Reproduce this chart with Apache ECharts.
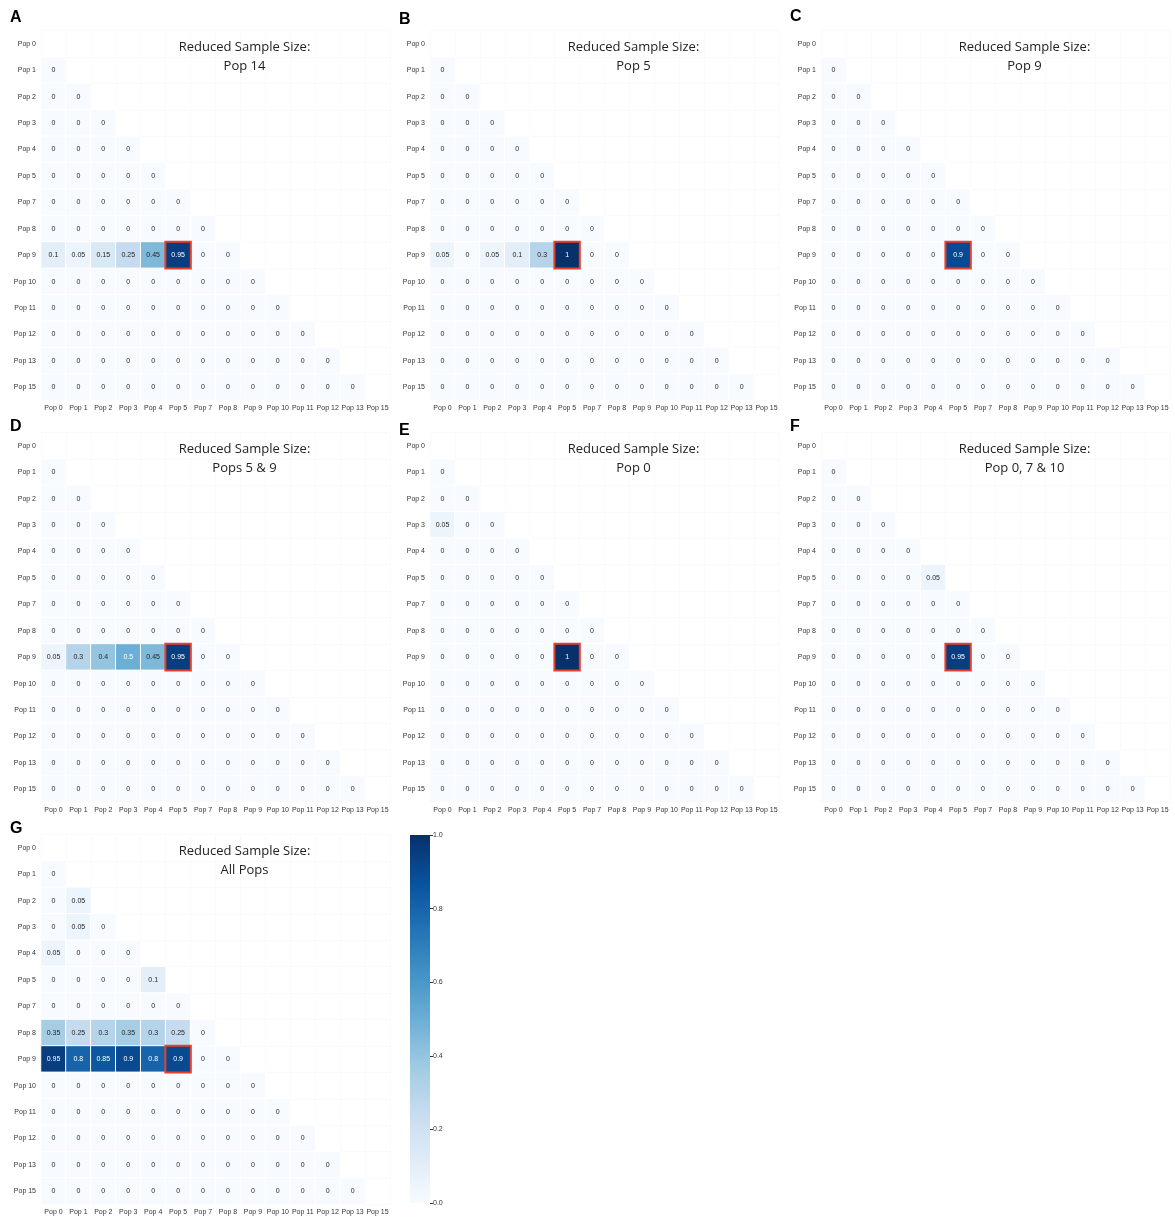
<!DOCTYPE html>
<html>
<head>
<meta charset="utf-8">
<script src="https://cdn.jsdelivr.net/npm/echarts@6/dist/echarts.min.js"></script>
<style>
  html, body { margin: 0; padding: 0; background: #fff; }
  #main { width: 1175px; height: 1226px; }
</style>
</head>
<body>
<div id="main"></div>
<script>
// categories (Pop 6 and Pop 14 are not in the matrices)
const pops = ['Pop 0', 'Pop 1', 'Pop 2', 'Pop 3', 'Pop 4', 'Pop 5', 'Pop 7',
    'Pop 8', 'Pop 9', 'Pop 10', 'Pop 11', 'Pop 12', 'Pop 13', 'Pop 15'];

// lower triangle of each panel, one row per pop (row i has i values)
const panelA = [
    [],
    [0],
    [0, 0],
    [0, 0, 0],
    [0, 0, 0, 0],
    [0, 0, 0, 0, 0],
    [0, 0, 0, 0, 0, 0],
    [0, 0, 0, 0, 0, 0, 0],
    [0.1, 0.05, 0.15, 0.25, 0.45, 0.95, 0, 0],
    [0, 0, 0, 0, 0, 0, 0, 0, 0],
    [0, 0, 0, 0, 0, 0, 0, 0, 0, 0],
    [0, 0, 0, 0, 0, 0, 0, 0, 0, 0, 0],
    [0, 0, 0, 0, 0, 0, 0, 0, 0, 0, 0, 0],
    [0, 0, 0, 0, 0, 0, 0, 0, 0, 0, 0, 0, 0]
];
const panelB = [
    [],
    [0],
    [0, 0],
    [0, 0, 0],
    [0, 0, 0, 0],
    [0, 0, 0, 0, 0],
    [0, 0, 0, 0, 0, 0],
    [0, 0, 0, 0, 0, 0, 0],
    [0.05, 0, 0.05, 0.1, 0.3, 1, 0, 0],
    [0, 0, 0, 0, 0, 0, 0, 0, 0],
    [0, 0, 0, 0, 0, 0, 0, 0, 0, 0],
    [0, 0, 0, 0, 0, 0, 0, 0, 0, 0, 0],
    [0, 0, 0, 0, 0, 0, 0, 0, 0, 0, 0, 0],
    [0, 0, 0, 0, 0, 0, 0, 0, 0, 0, 0, 0, 0]
];
const panelC = [
    [],
    [0],
    [0, 0],
    [0, 0, 0],
    [0, 0, 0, 0],
    [0, 0, 0, 0, 0],
    [0, 0, 0, 0, 0, 0],
    [0, 0, 0, 0, 0, 0, 0],
    [0, 0, 0, 0, 0, 0.9, 0, 0],
    [0, 0, 0, 0, 0, 0, 0, 0, 0],
    [0, 0, 0, 0, 0, 0, 0, 0, 0, 0],
    [0, 0, 0, 0, 0, 0, 0, 0, 0, 0, 0],
    [0, 0, 0, 0, 0, 0, 0, 0, 0, 0, 0, 0],
    [0, 0, 0, 0, 0, 0, 0, 0, 0, 0, 0, 0, 0]
];
const panelD = [
    [],
    [0],
    [0, 0],
    [0, 0, 0],
    [0, 0, 0, 0],
    [0, 0, 0, 0, 0],
    [0, 0, 0, 0, 0, 0],
    [0, 0, 0, 0, 0, 0, 0],
    [0.05, 0.3, 0.4, 0.5, 0.45, 0.95, 0, 0],
    [0, 0, 0, 0, 0, 0, 0, 0, 0],
    [0, 0, 0, 0, 0, 0, 0, 0, 0, 0],
    [0, 0, 0, 0, 0, 0, 0, 0, 0, 0, 0],
    [0, 0, 0, 0, 0, 0, 0, 0, 0, 0, 0, 0],
    [0, 0, 0, 0, 0, 0, 0, 0, 0, 0, 0, 0, 0]
];
const panelE = [
    [],
    [0],
    [0, 0],
    [0.05, 0, 0],
    [0, 0, 0, 0],
    [0, 0, 0, 0, 0],
    [0, 0, 0, 0, 0, 0],
    [0, 0, 0, 0, 0, 0, 0],
    [0, 0, 0, 0, 0, 1, 0, 0],
    [0, 0, 0, 0, 0, 0, 0, 0, 0],
    [0, 0, 0, 0, 0, 0, 0, 0, 0, 0],
    [0, 0, 0, 0, 0, 0, 0, 0, 0, 0, 0],
    [0, 0, 0, 0, 0, 0, 0, 0, 0, 0, 0, 0],
    [0, 0, 0, 0, 0, 0, 0, 0, 0, 0, 0, 0, 0]
];
const panelF = [
    [],
    [0],
    [0, 0],
    [0, 0, 0],
    [0, 0, 0, 0],
    [0, 0, 0, 0, 0.05],
    [0, 0, 0, 0, 0, 0],
    [0, 0, 0, 0, 0, 0, 0],
    [0, 0, 0, 0, 0, 0.95, 0, 0],
    [0, 0, 0, 0, 0, 0, 0, 0, 0],
    [0, 0, 0, 0, 0, 0, 0, 0, 0, 0],
    [0, 0, 0, 0, 0, 0, 0, 0, 0, 0, 0],
    [0, 0, 0, 0, 0, 0, 0, 0, 0, 0, 0, 0],
    [0, 0, 0, 0, 0, 0, 0, 0, 0, 0, 0, 0, 0]
];
const panelG = [
    [],
    [0],
    [0, 0.05],
    [0, 0.05, 0],
    [0.05, 0, 0, 0],
    [0, 0, 0, 0, 0.1],
    [0, 0, 0, 0, 0, 0],
    [0.35, 0.25, 0.3, 0.35, 0.3, 0.25, 0],
    [0.95, 0.8, 0.85, 0.9, 0.8, 0.9, 0, 0],
    [0, 0, 0, 0, 0, 0, 0, 0, 0],
    [0, 0, 0, 0, 0, 0, 0, 0, 0, 0],
    [0, 0, 0, 0, 0, 0, 0, 0, 0, 0, 0],
    [0, 0, 0, 0, 0, 0, 0, 0, 0, 0, 0, 0],
    [0, 0, 0, 0, 0, 0, 0, 0, 0, 0, 0, 0, 0]
];

const letters = ['A', 'B', 'C', 'D', 'E', 'F', 'G'];
const subtitles = ['Pop 14', 'Pop 5', 'Pop 9', 'Pops 5 & 9', 'Pop 0', 'Pop 0, 7 & 10', 'All Pops'];
const colorbarTicks = [0, 0.2, 0.4, 0.6, 0.8, 1.0];

// the boxed cell: Pop 9 x Pop 5
const hiRow = 8, hiCol = 5;

const panels = [panelA, panelB, panelC, panelD, panelE, panelF, panelG];
// matplotlib Blues
const blues = ['#f7fbff', '#deebf7', '#c6dbef', '#9ecae1', '#6baed6', '#4292c6', '#2171b5', '#08519c', '#08306b'];

const labelFont = 'Liberation Sans, Arial, sans-serif';
let grids = [], xAxes = [], yAxes = [], series = [], graphics = [];

panels.forEach(function (rows, i) {
    let ox = [0, 389, 780][i % 3];
    let oy = [0, 402, 804][Math.floor(i / 3)];

    grids.push({ left: ox + 41, top: oy + 30.5, width: 349, height: 370 });
    xAxes.push({
        type: 'category', gridIndex: i, data: pops,
        axisLine: { show: false },
        axisTick: { alignWithLabel: true, length: 3, lineStyle: { color: '#333' } },
        axisLabel: { interval: 0, fontSize: 7, color: '#333', margin: 4, fontFamily: labelFont },
        splitLine: { show: true, lineStyle: { color: '#fafafa' } }
    });
    yAxes.push({
        type: 'category', gridIndex: i, data: pops, inverse: true,
        axisLine: { show: false },
        axisTick: { show: false },
        axisLabel: { interval: 0, fontSize: 7, color: '#333', margin: 5, fontFamily: labelFont },
        splitLine: { show: true, lineStyle: { color: '#fafafa' } }
    });

    // 构建数据, 高亮格子放最后
    let data = [];
    let hi = null;
    rows.forEach(function (row, r) {
        row.forEach(function (v, c) {
            let item = { value: [c, r, v] };
            if (v >= 0.5) {
                item.label = { color: '#fff' };
            }
            if (r == hiRow && c == hiCol) {
                item.itemStyle = { borderColor: '#e8402a', borderWidth: 2 };
                hi = item;
            } else {
                data.push(item);
            }
        });
    });
    if (hi) data.push(hi);

    series.push({
        type: 'heatmap', xAxisIndex: i, yAxisIndex: i,
        data: data,
        itemStyle: { borderColor: '#fff', borderWidth: 1 },
        label: {
            show: true, fontSize: 7, color: '#262626', fontFamily: labelFont,
            formatter: function (p) { return String(p.value[2]); }
        },
        emphasis: { disabled: true }
    });

    // panel letter
    let ly = [18, 20, 17, 427, 431, 427, 829][i];
    graphics.push({
        type: 'text', left: ox + 10, top: ly - 8, z: 100,
        style: { text: letters[i], font: 'bold 16px ' + labelFont, fill: '#000' }
    });
    // title
    graphics.push({
        type: 'text', x: ox + 244.5, y: oy + 56.5, z: 100,
        style: {
            text: 'Reduced Sample Size:\n' + subtitles[i],
            font: '13px "Open Sans", sans-serif', fill: '#222',
            textAlign: 'center', textVerticalAlign: 'middle', lineHeight: 19
        }
    });
});

// colorbar: gradient strip + value axis for its ticks
graphics.push({
    type: 'rect', left: 410, top: 835, z: 5,
    shape: { width: 20, height: 368 },
    style: {
        fill: new echarts.graphic.LinearGradient(0, 1, 0, 0, blues.map(function (c, k) {
            return { offset: k / (blues.length - 1), color: c };
        }))
    }
});
grids.push({ left: 410, top: 835, width: 20, height: 368 });
xAxes.push({
    type: 'category', gridIndex: 7, data: [''], show: false,
    axisLine: { show: false }, axisTick: { show: false },
    axisLabel: { show: false }, splitLine: { show: false }
});
yAxes.push({
    type: 'value', gridIndex: 7, position: 'right',
    min: colorbarTicks[0], max: colorbarTicks[colorbarTicks.length - 1], interval: 0.2,
    axisLine: { show: false, onZero: false },
    axisTick: { show: true, length: 3, lineStyle: { color: '#333' } },
    axisLabel: { fontSize: 7, color: '#333', margin: 3, fontFamily: labelFont,
        formatter: function (v) { return v.toFixed(1); } },
    splitLine: { show: false }
});

let myChart = echarts.init(document.getElementById('main'));
let option = {
    backgroundColor: '#fff',
    animation: false,
    grid: grids,
    xAxis: xAxes,
    yAxis: yAxes,
    visualMap: {
        type: 'continuous', min: 0, max: 1, show: false,
        seriesIndex: [0, 1, 2, 3, 4, 5, 6],
        inRange: { color: blues }
    },
    graphic: graphics,
    series: series
};
myChart.setOption(option);
</script>
</body>
</html>
